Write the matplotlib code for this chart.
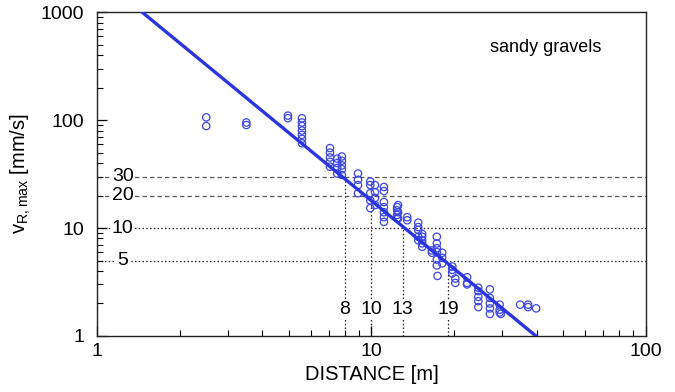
import matplotlib
matplotlib.use("Agg")
import matplotlib.pyplot as plt
import matplotlib.ticker as ticker

plt.rcParams["font.family"] = ["Liberation Sans", "DejaVu Sans"]

# measured points: distance [m], peak velocity [mm/s]
distance = [
    2.5, 2.5,
    3.5, 3.5,
    4.96, 4.96,
    5.58, 5.58, 5.58, 5.58, 5.58, 5.58, 5.58,
    7.06, 7.06, 7.06, 7.06, 7.06,
    7.5, 7.5, 7.5, 7.5,
    7.8, 7.8, 7.8, 7.8, 7.8,
    8.93, 8.93, 8.93, 8.93,
    9.9, 9.9, 9.9, 9.9, 9.9,
    10.3, 10.3, 10.3, 10.3,
    11.1, 11.1, 11.1, 11.1, 11.1, 11.1, 11.1,
    12.4, 12.4, 12.4, 12.4,
    12.5, 12.5, 12.5,
    13.5, 13.5,
    14.8, 14.8, 14.8, 14.8, 14.8,
    15.3, 15.3, 15.3, 15.3, 15.3,
    16.6, 16.6,
    17.3, 17.3, 17.3, 17.3, 17.3, 17.3, 17.4,
    18.1, 18.1, 18.1,
    19.7, 19.7, 19.7,
    20.2, 20.2,
    22.3, 22.3, 22.3,
    24.5, 24.5, 24.5, 24.5, 24.5,
    27.0, 27.0, 27.0, 27.0, 27.0,
    29.3, 29.3, 29.3, 29.6,
    34.8, 37.2, 37.2, 39.8,
]
velocity = [
    106, 88,
    95, 90,
    110, 104,
    104, 95, 88, 80, 73, 67, 61,
    55, 50, 45, 41, 37,
    44, 40, 36, 32,
    46, 42, 38, 35, 31,
    32, 28, 25, 21,
    27, 25, 21, 18, 15.3,
    25, 21.5, 19, 16.3,
    24, 22, 17.4, 15.6, 14, 12.6, 11.4,
    15.6, 14.6, 13.2, 12.3,
    16.3, 14.0, 12.3,
    12.6, 11.8,
    11.2, 10.2, 9.6, 8.3, 7.7,
    8.8, 8.3, 7.7, 7.2, 6.7,
    6.2, 5.9,
    8.3, 7.2, 6.5, 6.0, 5.1, 4.5, 3.6,
    5.9, 5.3, 4.7,
    4.4, 4.1, 3.8,
    3.4, 3.1,
    3.5, 3.1, 3.0,
    2.8, 2.6, 2.3, 2.1, 1.85,
    2.7, 2.25, 2.0, 1.8, 1.6,
    1.95, 1.75, 1.65, 1.6,
    1.95, 1.95, 1.85, 1.8,
]

# regression line end points
fit_distance = [1.46, 39.7]
fit_velocity = [1000, 1]

# reference levels and the distances where the fit crosses them
levels = [30, 20, 10, 5]
level_labels = ["30", "20", "10", "5"]
crossings = [8, 10, 13, 19]
crossing_labels = ["8", "10", "13", "19"]

fig = plt.figure(figsize=(6.75, 3.92), dpi=100)
ax = fig.add_axes([0.1437, 0.143, 0.8133, 0.826])
ax.set_xscale("log")
ax.set_yscale("log")
ax.set_xlim(1, 100)
ax.set_ylim(1, 1000)

for lev, lab, xc, xlab in zip(levels, level_labels, crossings, crossing_labels):
    if lev >= 20:
        ls = (0, (3.5, 2.5))
        col = "#555555"
    else:
        ls = (0, (1.2, 1.8))
        col = "#222222"
    ax.plot([1, 100], [lev, lev], color=col, ls=ls, lw=0.9, zorder=1)
    ax.plot([xc, xc], [1, lev], color="#222222", ls=(0, (1.2, 1.8)), lw=0.9, zorder=1)
    ax.text(1.24, lev, lab, fontsize=14, ha="center", va="center", zorder=2,
            bbox=dict(facecolor="white", edgecolor="none", pad=0.8))
    ax.text(xc, 1.74, xlab, fontsize=14, ha="center", va="center", zorder=2,
            bbox=dict(facecolor="white", edgecolor="none", pad=0.8))

ax.plot(fit_distance, fit_velocity, color="#2a35e0", lw=2.4, zorder=4)
ax.scatter(distance, velocity, s=28, facecolors="none", edgecolors="#3b46e8",
           linewidths=0.9, zorder=3)

ax.text(0.818, 0.89, "sandy gravels", transform=ax.transAxes, fontsize=13,
        ha="center", va="center")

ax.xaxis.set_major_formatter(ticker.FuncFormatter(lambda v, _: f"{v:g}"))
ax.yaxis.set_major_formatter(ticker.FuncFormatter(lambda v, _: f"{v:g}"))
ax.xaxis.set_minor_formatter(ticker.NullFormatter())
ax.yaxis.set_minor_formatter(ticker.NullFormatter())
ax.tick_params(which="both", direction="in", top=False, right=False, labelsize=14)
ax.tick_params(which="major", length=7, width=0.9)
ax.tick_params(axis="y", which="major", pad=9)
ax.tick_params(axis="x", which="major", pad=5)
ax.tick_params(which="minor", length=4, width=0.8)
for sp in ax.spines.values():
    sp.set_linewidth(1.0)
    sp.set_color("#222222")

ax.set_xlabel("DISTANCE [m]", fontsize=14.5, labelpad=4)
ax.set_ylabel(r"v$_{\mathregular{R,max}}$ [mm/s]", fontsize=14.5, labelpad=6)

fig.savefig("out.png", dpi=100)
